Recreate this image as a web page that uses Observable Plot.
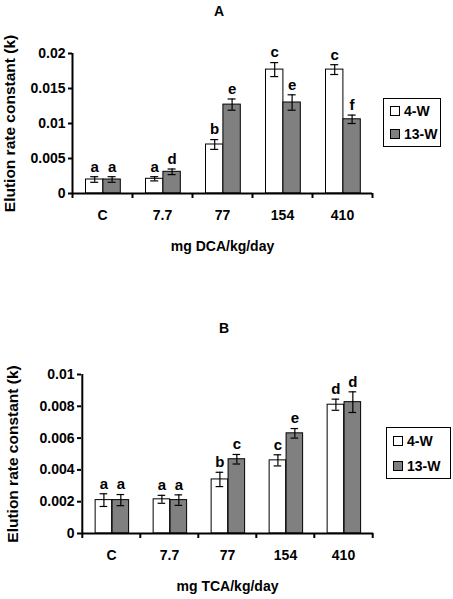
<!DOCTYPE html>
<html><head><meta charset="utf-8">
<script src="https://cdn.jsdelivr.net/npm/d3@7"></script>
<script src="https://cdn.jsdelivr.net/npm/@observablehq/plot@0.6"></script>
<style>
body{margin:0;background:#fff;}
#wrap{position:relative;width:453px;height:599px;font-family:"Liberation Sans",Arial,sans-serif;font-weight:bold;color:#000;overflow:hidden;}
.panel{position:absolute;left:0;}
.title{position:absolute;font-size:14px;transform:translate(-50%,-50%);}
.legend{position:absolute;box-sizing:border-box;border:1px solid #000;background:#fff;font-size:14px;padding:0 0 0 6px;display:flex;flex-direction:column;justify-content:space-around;}
.legend .row{display:flex;align-items:center;}
.legend .sw{display:inline-block;width:8px;height:8px;border:1px solid #000;margin-right:4px;}
</style></head>
<body>
<div id="wrap"></div>
<script>
// ----- data -----
const categories = ["C", "7.7", "77", "154", "410"];
const series = ["4-W", "13-W"];

const dcaMean4W  = [0.0020, 0.0021, 0.0070, 0.0177, 0.0177];
const dcaErr4W   = [0.0004, 0.0003, 0.0007, 0.0010, 0.0007];
const dcaLet4W   = ["a", "a", "b", "c", "c"];
const dcaMean13W = [0.0020, 0.0031, 0.0127, 0.0130, 0.0106];
const dcaErr13W  = [0.0004, 0.0004, 0.0008, 0.0011, 0.0006];
const dcaLet13W  = ["a", "d", "e", "e", "f"];
const dcaTicks   = [0, 0.005, 0.01, 0.015, 0.02];

const tcaMean4W  = [0.0021, 0.00215, 0.0034, 0.0046, 0.0081];
const tcaErr4W   = [0.0004, 0.00025, 0.00045, 0.00035, 0.00035];
const tcaLet4W   = ["a", "a", "b", "c", "d"];
const tcaMean13W = [0.0021, 0.0021, 0.00467, 0.0063, 0.00826];
const tcaErr13W  = [0.00035, 0.00033, 0.0003, 0.0003, 0.00065];
const tcaLet13W  = ["a", "a", "c", "e", "d"];
const tcaTicks   = [0, 0.002, 0.004, 0.006, 0.008, 0.01];

const yLabel = "Elution rate constant (k)";
const fills = {"4-W": "#ffffff", "13-W": "#808080"};

function fmt(d) { return d === 0 ? "0" : String(+d.toFixed(4)); }

function panel(o) {
  const rows = [];
  categories.forEach((c, i) => {
    rows.push({cat: c, s: "4-W", v: o.m4[i], e: o.e4[i], l: o.l4[i]});
    rows.push({cat: c, s: "13-W", v: o.m13[i], e: o.e13[i], l: o.l13[i]});
  });
  const bw = (o.width - o.ml - o.mr) / categories.length;
  const barW = 0.29 * bw, pc = 0.515 * bw;
  const left = {"4-W": pc - barW, "13-W": pc};
  const marks = [];
  for (const s of series) {
    const data = rows.filter(r => r.s === s);
    const L = left[s], c = L + barW / 2;
    marks.push(Plot.barY(data, {x: "cat", y: "v", fill: fills[s], stroke: "#000", strokeWidth: 1,
      insetLeft: L, insetRight: bw - L - barW}));
    marks.push(Plot.ruleX(data, {x: "cat", y1: r => r.v - r.e, y2: r => r.v + r.e, dx: c - bw / 2, stroke: "#000", strokeWidth: 1.2}));
    marks.push(Plot.tickY(data, {x: "cat", y: r => r.v + r.e, insetLeft: c - 4, insetRight: bw - c - 4, stroke: "#000", strokeWidth: 1.2}));
    marks.push(Plot.tickY(data, {x: "cat", y: r => r.v - r.e, insetLeft: c - 4, insetRight: bw - c - 4, stroke: "#000", strokeWidth: 1.2}));
    marks.push(Plot.text(data, {x: "cat", y: r => r.v + r.e, text: "l", dx: c - bw / 2, dy: -10, fontSize: 15, fontWeight: "bold"}));
  }
  return Plot.plot({
    width: o.width, height: o.height,
    marginLeft: o.ml, marginRight: o.mr, marginTop: o.mt, marginBottom: o.mb,
    style: {fontFamily: '"Liberation Sans", Arial, sans-serif', fontWeight: "bold", fontSize: "14px", color: "#000", background: "#fff", overflow: "visible"},
    x: {type: "band", domain: categories, padding: 0, axis: null},
    y: {domain: [0, o.yMax], axis: null},
    marks: [
      ...marks,
      Plot.ruleY([0], {stroke: "#000", strokeWidth: 2}),
      Plot.ruleX([categories[0]], {dx: -bw / 2, stroke: "#000", strokeWidth: 2}),
      Plot.axisY(o.ticks, {tickSize: 4, tickPadding: 3, strokeWidth: 2, tickFormat: fmt, fontSize: 14, label: null}),
      Plot.axisY([], {tickSize: 0, fontSize: 15.5, label: yLabel, labelAnchor: "center", labelOffset: o.lo, labelArrow: "none"}),
      Plot.axisX({tickSize: 0, tickPadding: 17, fontSize: 14,
        label: o.xLabel, labelAnchor: "center", labelOffset: 57, labelArrow: "none"}),
      Plot.axisX(categories, {tickSize: 5, strokeWidth: 2, fill: "none", dx: -bw / 2, label: null}),
      Plot.axisX([categories[categories.length - 1]], {tickSize: 5, strokeWidth: 2, fill: "none", dx: bw / 2, label: null})
    ]
  });
}

const wrap = document.getElementById("wrap");
function place(el, top) { el.classList.add("panel"); el.style.top = top + "px"; wrap.appendChild(el); }

place(panel({m4: dcaMean4W, e4: dcaErr4W, l4: dcaLet4W, m13: dcaMean13W, e13: dcaErr13W, l13: dcaLet13W,
  ticks: dcaTicks, yMax: 0.02, xLabel: "mg DCA/kg/day",
  width: 453, height: 260, ml: 72, mr: 81, mt: 53, mb: 67, lo: 69}), 0);
place(panel({m4: tcaMean4W, e4: tcaErr4W, l4: tcaLet4W, m13: tcaMean13W, e13: tcaErr13W, l13: tcaLet13W,
  ticks: tcaTicks, yMax: 0.01, xLabel: "mg TCA/kg/day",
  width: 453, height: 299, ml: 81, mr: 80, mt: 74, mb: 66, lo: 75}), 300);

function title(t, x, y) {
  const d = document.createElement("div"); d.className = "title"; d.textContent = t;
  d.style.left = x + "px"; d.style.top = y + "px"; wrap.appendChild(d);
}
title("A", 219, 11);
title("B", 224, 328);

function legend(x, y, w, h) {
  const d = document.createElement("div"); d.className = "legend";
  Object.assign(d.style, {left: x + "px", top: y + "px", width: w + "px", height: h + "px"});
  for (const s of series) {
    const r = document.createElement("div"); r.className = "row";
    const sw = document.createElement("span"); sw.className = "sw"; sw.style.background = fills[s];
    const t = document.createElement("span"); t.textContent = s;
    r.appendChild(sw); r.appendChild(t); d.appendChild(r);
  }
  wrap.appendChild(d);
}
legend(383, 98, 58, 49);
legend(386, 427, 65, 52);
</script>
</body></html>
